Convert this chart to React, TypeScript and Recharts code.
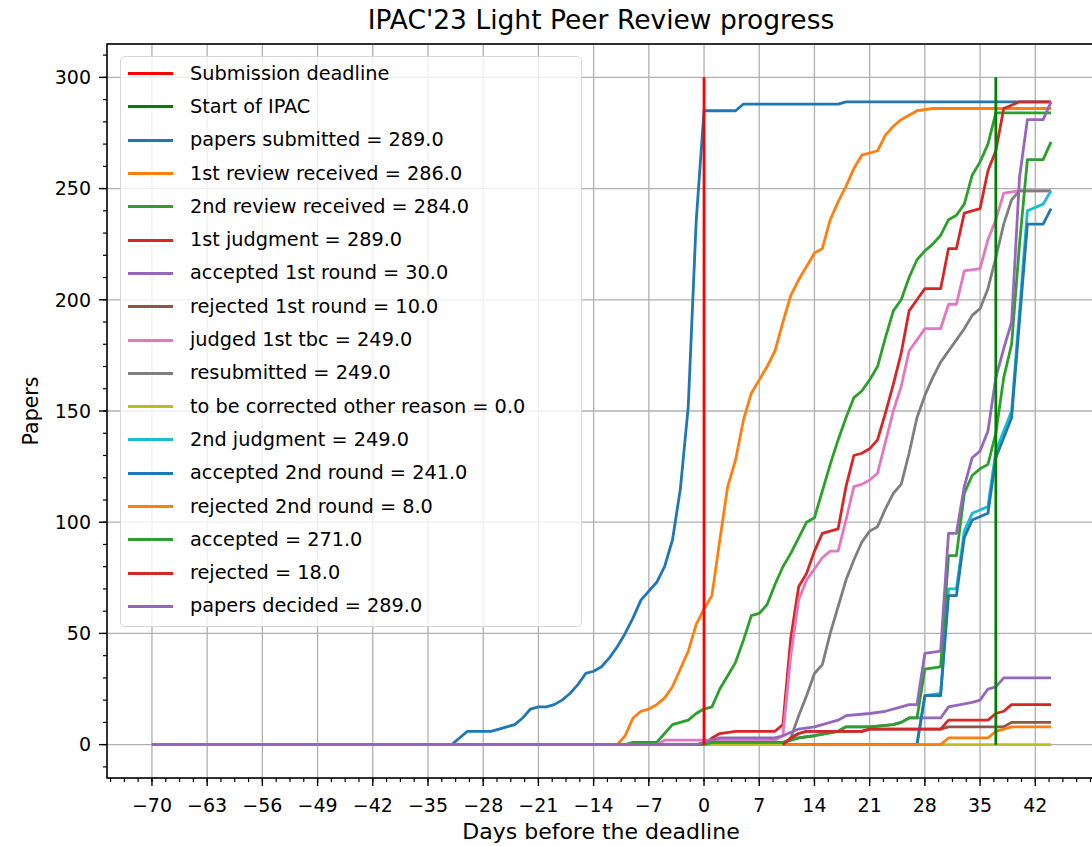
import React from 'react';
import { LineChart, Line, XAxis, YAxis, CartesianGrid, Legend, ReferenceArea } from 'recharts';

type P = [number, number];

const FONT = '"DejaVu Sans", Verdana, sans-serif';

// ---- tick labels / axis extents ----
const xMajorTicks = [-70, -63, -56, -49, -42, -35, -28, -21, -14, -7, 0, 7, 14, 21, 28, 35, 42];
const yMajorTicks = [0, 50, 100, 150, 200, 250, 300];
const X_DOMAIN: [number, number] = [-75.7, 49.7];
const Y_DOMAIN: [number, number] = [-15, 315];
const xMinorTicks = Array.from({ length: 72 }, (_, i) => -75.25 + i * 1.75);
const yMinorTicks = Array.from({ length: 33 }, (_, i) => -10 + i * 10);

// ---- reference lines (day, papers) ----
const submissionDeadline: P[] = [[0, 0], [0, 300]];
const startOfIpac: P[] = [[37, 0], [37, 300]];

// ---- series (day, papers) ----
const papersSubmitted: P[] = [[-70, 0], [-32, 0], [-31, 3], [-30, 6], [-27, 6], [-26, 7], [-25, 8], [-24, 9], [-23, 12], [-22, 16], [-21, 17], [-20, 17], [-19, 18], [-18, 20], [-17, 23], [-16, 27], [-15, 32], [-14, 33], [-13, 35], [-12, 39], [-11, 44], [-10, 50], [-9, 57], [-8, 65], [-7, 69], [-6, 73], [-5, 80], [-4, 92], [-3, 115], [-2, 152], [-1, 235], [0, 285], [4, 285], [5, 288], [17, 288], [18, 289], [44, 289]];
const firstReview: P[] = [[-70, 0], [-11, 0], [-10, 4], [-9, 12], [-8, 15], [-7, 16], [-6, 18], [-5, 21], [-4, 26], [-3, 34], [-2, 42], [-1, 54], [0, 61], [1, 67], [2, 92], [3, 116], [4, 128], [5, 146], [6, 158], [7, 164], [8, 170], [9, 177], [10, 190], [11, 202], [12, 209], [13, 215], [14, 221], [15, 223], [16, 236], [17, 244], [18, 251], [19, 259], [20, 265], [21, 266], [22, 267], [23, 274], [24, 278], [25, 281], [26, 283], [27, 285], [29, 286], [44, 286]];
const secondReview: P[] = [[-70, 0], [-10, 0], [-9, 1], [-6, 1], [-5, 5], [-4, 9], [-3, 10], [-2, 11], [-1, 14], [0, 16], [1, 17], [2, 25], [3, 31], [4, 37], [5, 47], [6, 58], [7, 59], [8, 63], [9, 72], [10, 80], [11, 86], [12, 93], [13, 100], [14, 102], [15, 114], [16, 126], [17, 137], [18, 147], [19, 156], [20, 159], [21, 164], [22, 170], [23, 183], [24, 195], [25, 200], [26, 210], [27, 218], [28, 222], [29, 225], [30, 229], [31, 236], [32, 238], [33, 243], [34, 256], [35, 262], [36, 270], [37, 284], [44, 284]];
const firstJudgment: P[] = [[-70, 0], [0, 0], [1, 3], [2, 5], [4, 6], [9, 6], [10, 9], [11, 48], [12, 71], [13, 77], [14, 87], [15, 95], [16, 96], [17, 97], [18, 116], [19, 130], [20, 131], [21, 133], [22, 137], [23, 149], [24, 162], [25, 176], [26, 195], [27, 200], [28, 205], [30, 205], [31, 223], [32, 223], [33, 239], [35, 241], [36, 258], [37, 267], [38, 286], [40, 289], [44, 289]];
const acceptedFirstRound: P[] = [[-70, 0], [0, 0], [1, 1], [10, 1], [12, 3], [14, 4], [17, 6], [18, 8], [21, 8], [24, 9], [25, 10], [26, 12], [30, 12], [31, 17], [34, 19], [35, 20], [36, 25], [37, 26], [38, 30], [44, 30]];
const rejectedFirstRound: P[] = [[-70, 0], [10, 0], [11, 3], [12, 5], [13, 6], [20, 6], [21, 7], [30, 7], [31, 8], [38, 8], [39, 10], [44, 10]];
const judgedFirstTbc: P[] = [[-70, 0], [-6, 0], [-5, 2], [9, 2], [10, 4], [11, 40], [12, 65], [13, 74], [14, 79], [15, 84], [16, 87], [17, 87], [18, 101], [19, 116], [20, 117], [21, 119], [22, 122], [23, 136], [24, 150], [25, 161], [26, 177], [27, 182], [28, 187], [30, 187], [31, 198], [32, 198], [33, 213], [35, 214], [36, 227], [37, 236], [38, 248], [40, 249], [44, 249]];
const resubmitted: P[] = [[-70, 0], [10, 0], [11, 3], [12, 13], [13, 22], [14, 32], [15, 36], [16, 50], [17, 62], [18, 74], [19, 83], [20, 91], [21, 96], [22, 98], [23, 106], [24, 113], [25, 117], [26, 131], [27, 147], [28, 157], [29, 165], [30, 172], [31, 177], [32, 182], [33, 187], [34, 193], [35, 196], [36, 205], [37, 219], [38, 234], [39, 245], [40, 249], [44, 249]];
const otherReason: P[] = [[-70, 0], [44, 0]];
const secondJudgment: P[] = [[10, 0], [27, 0], [28, 22], [30, 23], [31, 70], [32, 70], [33, 96], [34, 104], [36, 107], [37, 132], [38, 141], [39, 150], [41, 240], [43, 243], [44, 249]];
const acceptedSecondRound: P[] = [[10, 0], [27, 0], [28, 22], [30, 22], [31, 67], [32, 67], [33, 93], [34, 101], [36, 104], [37, 129], [38, 138], [39, 147], [41, 234], [43, 234], [44, 241]];
const rejectedSecondRound: P[] = [[10, 0], [30, 0], [31, 3], [36, 3], [37, 6], [38, 7], [39, 8], [44, 8]];
const accepted: P[] = [[-70, 0], [0, 0], [1, 1], [10, 1], [12, 3], [14, 4], [17, 6], [18, 8], [21, 8], [24, 9], [25, 10], [26, 12], [27, 12], [28, 34], [30, 35], [31, 85], [32, 85], [33, 113], [34, 121], [35, 124], [36, 126], [37, 140], [38, 165], [39, 180], [40, 225], [41, 263], [43, 263], [44, 271]];
const rejected: P[] = [[10, 0], [11, 3], [12, 5], [13, 6], [20, 6], [21, 7], [30, 7], [31, 11], [36, 11], [37, 14], [38, 15], [39, 18], [44, 18]];
const papersDecided: P[] = [[-70, 0], [-1, 0], [0, 1], [2, 3], [9, 3], [10, 4], [12, 7], [14, 8], [16, 10], [17, 11], [18, 13], [21, 14], [23, 15], [25, 17], [26, 18], [27, 18], [28, 41], [30, 42], [31, 95], [32, 95], [33, 116], [34, 129], [35, 132], [36, 141], [37, 165], [38, 178], [39, 190], [40, 255], [41, 281], [43, 281], [44, 289]];

const verticals = [
  { name: 'Submission deadline', color: '#ff0000', pts: submissionDeadline },
  { name: 'Start of IPAC', color: '#008000', pts: startOfIpac },
];

const series = [
  { name: 'papers submitted = 289.0', color: '#1f77b4', pts: papersSubmitted },
  { name: '1st review received = 286.0', color: '#ff7f0e', pts: firstReview },
  { name: '2nd review received = 284.0', color: '#2ca02c', pts: secondReview },
  { name: '1st judgment = 289.0', color: '#d62728', pts: firstJudgment },
  { name: 'accepted 1st round = 30.0', color: '#9467bd', pts: acceptedFirstRound },
  { name: 'rejected 1st round = 10.0', color: '#8c564b', pts: rejectedFirstRound },
  { name: 'judged 1st tbc = 249.0', color: '#e377c2', pts: judgedFirstTbc },
  { name: 'resubmitted = 249.0', color: '#7f7f7f', pts: resubmitted },
  { name: 'to be corrected other reason = 0.0', color: '#bcbd22', pts: otherReason },
  { name: '2nd judgment = 249.0', color: '#17becf', pts: secondJudgment },
  { name: 'accepted 2nd round = 241.0', color: '#1f77b4', pts: acceptedSecondRound },
  { name: 'rejected 2nd round = 8.0', color: '#ff7f0e', pts: rejectedSecondRound },
  { name: 'accepted = 271.0', color: '#2ca02c', pts: accepted },
  { name: 'rejected = 18.0', color: '#d62728', pts: rejected },
  { name: 'papers decided = 289.0', color: '#9467bd', pts: papersDecided },
];

const legendEntries = [...verticals, ...series];

const toData = (pts: P[]) => pts.map(([x, y]) => ({ x, y }));
const fmt = (v: number) => (v < 0 ? '\u2212' + Math.abs(v) : String(v));
const NoLabel = () => <g />;

// axis ids: 0 = minor-tick axes (closest to the plot), 1 = main axes
const MINOR = 0;
const MAIN = 1;

const LegendBox = () => (
  <div
    style={{
      width: 462,
      height: 571,
      boxSizing: 'border-box',
      border: '1.3px solid #d6d6d6',
      borderRadius: 5,
      background: 'rgba(255,255,255,0.8)',
      fontFamily: FONT,
      fontSize: 19.3,
      color: '#000',
    }}
  >
    {legendEntries.map((e) => (
      <div key={e.name} style={{ height: 33.3, display: 'flex', alignItems: 'center' }}>
        <div style={{ marginLeft: 7, width: 45, height: 3, background: e.color }} />
        <div style={{ marginLeft: 17, whiteSpace: 'nowrap', lineHeight: '20px' }}>{e.name}</div>
      </div>
    ))}
  </div>
);

export default function App() {
  const LW = 2.8;
  return (
    <div style={{ position: 'absolute', left: 0, top: 0, width: 1092, height: 846, overflow: 'hidden', background: '#fff' }}>
      <LineChart width={1100} height={846} margin={{ top: 44, right: 4, bottom: 27, left: 0 }}>
        <CartesianGrid xAxisId={MAIN} yAxisId={MAIN} stroke="#b0b0b0" strokeWidth={1.3} />
        <XAxis
          xAxisId={MINOR}
          type="number"
          dataKey="x"
          domain={X_DOMAIN}
          allowDataOverflow
          ticks={xMinorTicks}
          interval={0}
          tick={NoLabel}
          axisLine={false}
          tickLine={{ stroke: '#000', strokeWidth: 1.2 }}
          tickSize={4}
          height={1}
        />
        <XAxis
          xAxisId={MAIN}
          type="number"
          dataKey="x"
          domain={X_DOMAIN}
          allowDataOverflow
          ticks={xMajorTicks}
          interval={0}
          tickFormatter={fmt}
          tick={{ fontSize: 19, fill: '#000', fontFamily: FONT }}
          axisLine={false}
          tickLine={{ stroke: '#000', strokeWidth: 1.4 }}
          tickSize={7}
          tickMargin={13}
          height={40}
        />
        <YAxis
          yAxisId={MINOR}
          type="number"
          domain={Y_DOMAIN}
          allowDataOverflow
          ticks={yMinorTicks}
          interval={0}
          tick={NoLabel}
          axisLine={false}
          tickLine={{ stroke: '#000', strokeWidth: 1.2 }}
          tickSize={4}
          width={1}
        />
        <YAxis
          yAxisId={MAIN}
          type="number"
          domain={Y_DOMAIN}
          allowDataOverflow
          ticks={yMajorTicks}
          interval={0}
          tickFormatter={fmt}
          tick={{ fontSize: 19, fill: '#000', fontFamily: FONT }}
          axisLine={false}
          tickLine={{ stroke: '#000', strokeWidth: 1.4 }}
          tickSize={7}
          tickMargin={8}
          width={106}
        />
        <ReferenceArea xAxisId={MAIN} yAxisId={MAIN} x1={X_DOMAIN[0]} x2={X_DOMAIN[1]} y1={Y_DOMAIN[0]} y2={Y_DOMAIN[1]} fill="none" fillOpacity={0} stroke="#000" strokeWidth={1.5} />
        {series.map((s) => (
          <Line
            key={s.name}
            xAxisId={MAIN}
            yAxisId={MAIN}
            name={s.name}
            data={toData(s.pts)}
            dataKey="y"
            stroke={s.color}
            strokeWidth={LW}
            dot={false}
            activeDot={false}
            isAnimationActive={false}
            strokeLinejoin="round"
          />
        ))}
        {verticals.map((s) => (
          <Line
            key={s.name}
            xAxisId={MAIN}
            yAxisId={MAIN}
            name={s.name}
            data={toData(s.pts)}
            dataKey="y"
            stroke={s.color}
            strokeWidth={LW}
            dot={false}
            activeDot={false}
            isAnimationActive={false}
          />
        ))}
        <Legend
          layout="vertical"
          align="center"
          verticalAlign="middle"
          wrapperStyle={{ position: 'absolute', left: 120, top: 56, width: 462, height: 571 }}
          content={() => <LegendBox />}
        />
      </LineChart>
      <svg width={1092} height={846} style={{ position: 'absolute', left: 0, top: 0, pointerEvents: 'none' }}>
        <text x={601} y={29} textAnchor="middle" fontFamily={FONT} fontSize={26.5} fill="#000">
          IPAC'23 Light Peer Review progress
        </text>
        <text x={601} y={839} textAnchor="middle" fontFamily={FONT} fontSize={22} fill="#000">
          Days before the deadline
        </text>
        <text transform="translate(38,411) rotate(-90)" textAnchor="middle" fontFamily={FONT} fontSize={20.5} fill="#000">
          Papers
        </text>
      </svg>
    </div>
  );
}
